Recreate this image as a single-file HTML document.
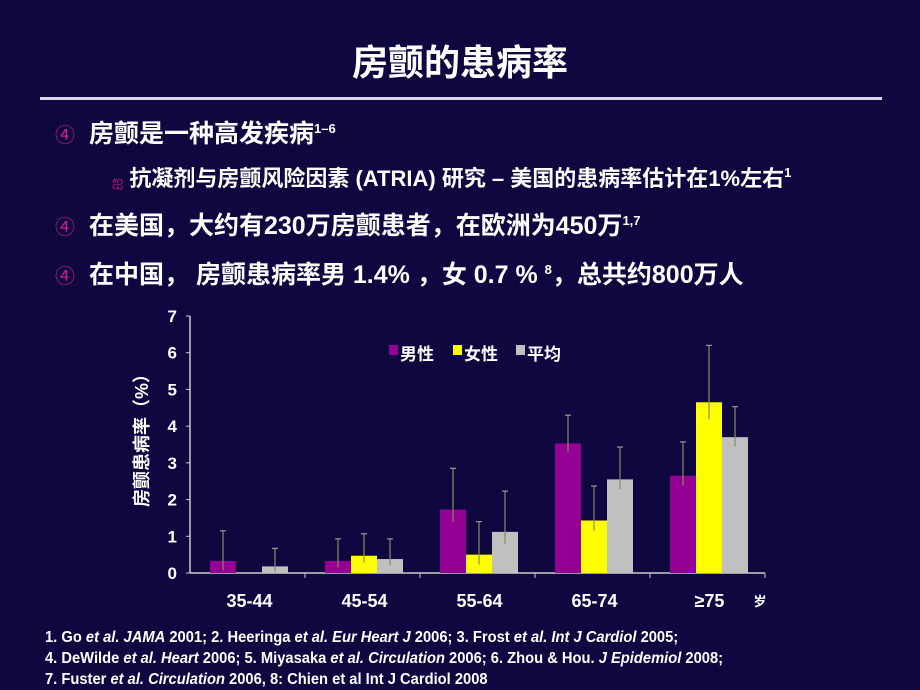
<!DOCTYPE html>
<html><head><meta charset="utf-8"><style>
body{margin:0;background:#0f0740;width:920px;height:690px;overflow:hidden;position:relative;font-family:"Liberation Sans","Noto Sans CJK SC",sans-serif;color:#fff;font-weight:bold}
.a{position:absolute;white-space:nowrap}
.b{color:#d01f8f;font-weight:normal;font-size:20px}
.t{font-size:25px}
sup{font-size:13px;vertical-align:9px}
.fn{font-size:16px;transform:scaleX(0.92);transform-origin:left;font-weight:bold;line-height:21px}
</style></head><body>
<div class="a" style="left:0;width:920px;text-align:center;top:34px;font-size:36px">房颤的患病率</div>
<div class="a" style="left:40px;top:97px;width:842px;height:3px;background:#d8d8e8"></div>
<div class="a" style="left:55px;top:114px"><span class="b">④</span><span class="t" style="margin-left:14px">房颤是一种高发疾病<sup>1–6</sup></span></div>
<div class="a" style="left:112px;top:161px;font-size:22px"><span style="color:#d01f8f;font-weight:normal;font-size:14px">ஐ</span> 抗凝剂与房颤风险因素 (ATRIA) 研究 – 美国的患病率估计在1%左右<sup>1</sup></div>
<div class="a" style="left:55px;top:206px"><span class="b">④</span><span class="t" style="margin-left:14px">在美国，大约有230万房颤患者，在欧洲为450万<sup>1,7</sup></span></div>
<div class="a" style="left:55px;top:255px"><span class="b">④</span><span class="t" style="margin-left:14px">在中国， 房颤患病率男 1.4% ，女 0.7 % <sup>8</sup>，总共约800万人</span></div>
<svg class="a" style="left:0;top:0" width="920" height="690" id="ch"></svg>
<div class="a fn" style="left:45px;top:627px">1. Go <i>et al. JAMA</i> 2001; 2. Heeringa <i>et al. Eur Heart J</i> 2006; 3. Frost <i>et al. Int J Cardiol</i> 2005;<br>4. DeWilde <i>et al. Heart</i> 2006; 5. Miyasaka <i>et al. Circulation</i> 2006; 6. Zhou &amp; Hou. <i>J Epidemiol</i> 2008;<br>7. Fuster <i>et al. Circulation</i> 2006, 8: Chien et al Int J Cardiol 2008</div>
<script>
const categories=["35-44","45-54","55-64","65-74","≥75"];
const male=[0.33,0.33,1.73,3.53,2.65];
const female=[0,0.47,0.5,1.43,4.65];
const avg=[0.18,0.38,1.12,2.55,3.7];
const maleErr=[1.15,0.93,2.85,4.3,3.57];
const femaleErr=[null,1.07,1.4,2.37,6.2];
const avgErr=[0.67,0.93,2.23,3.43,4.53];
const yTicks=[0,1,2,3,4,5,6,7];
const seriesNames=["男性","女性","平均"];
const NS="http://www.w3.org/2000/svg",svg=document.getElementById('ch');
const X0=190,X1=765,Y0=573,Y7=316;
const y=v=>Y0-(Y0-Y7)*v/7;
const gw=(X1-X0)/categories.length;
const bw=26;
function mk(t,a,txt){const e=document.createElementNS(NS,t);for(const k in a)e.setAttribute(k,a[k]);if(txt!=null)e.textContent=txt;svg.appendChild(e);return e;}
let e;
e=mk('line',{x1:X0,y1:y(7),x2:X0,y2:Y0,stroke:'#ccc','stroke-width':1.5});


e=mk('line',{x1:X0,y1:Y0,x2:X1,y2:Y0,stroke:'#ccc','stroke-width':1.5});


yTicks.forEach(t=>{
 mk('line',{x1:X0-4,y1:y(t),x2:X0,y2:y(t),stroke:'#ccc'});
 e=mk('text',{x:X0-13,y:y(t)+6,'text-anchor':'end','font-size':17,fill:'#fff','font-weight':'bold'},t);
 
 
});
const series=[[male,maleErr,'#930093'],[female,femaleErr,'#ffff00'],[avg,avgErr,'#c0c0c0']];
categories.forEach((c,i)=>{
 const gx=X0+gw*i;
 mk('line',{x1:gx+gw,y1:Y0,x2:gx+gw,y2:Y0+5,stroke:'#ccc'});
 series.forEach((s,j)=>{
  const v=s[0][i],bx=gx+20+j*bw;
  if(v>0){e=mk('rect',{x:bx,y:y(v),width:bw,height:Y0-y(v),fill:s[2]});
  
  }
  const t=s[1][i];
  if(t!=null){const lo=Math.max(0,v-(t-v)*0.3);const cx=bx+bw/2;
   e=mk('line',{x1:cx,y1:y(t),x2:cx,y2:y(lo),stroke:'#8a8a60','stroke-width':1.2});
   
   
   mk('line',{x1:cx-3,y1:y(t),x2:cx+3,y2:y(t),stroke:'#999','stroke-width':1.2});}
 });
 e=mk('text',{x:gx+gw/2+2,y:607,'text-anchor':'middle','font-size':18,fill:'#fff','font-weight':'bold'},c);
 
 
});
e=mk('text',{x:760,y:606,'text-anchor':'middle','font-size':13,fill:'#fff','font-weight':'bold'},'岁');


e=mk('text',{x:0,y:0,'text-anchor':'middle','font-size':18,fill:'#fff','font-weight':'bold',transform:'translate(148,436) rotate(-90)'},'房颤患病率（%）');


const lx=[389,453,516];
seriesNames.forEach((n,j)=>{
 e=mk('rect',{x:lx[j],y:345,width:9,height:10,fill:series[j][2]});
 
 
 e=mk('text',{x:lx[j]+11,y:360,'font-size':17,fill:'#fff','font-weight':'bold'},n);
 
 
});
</script>
</body></html>
